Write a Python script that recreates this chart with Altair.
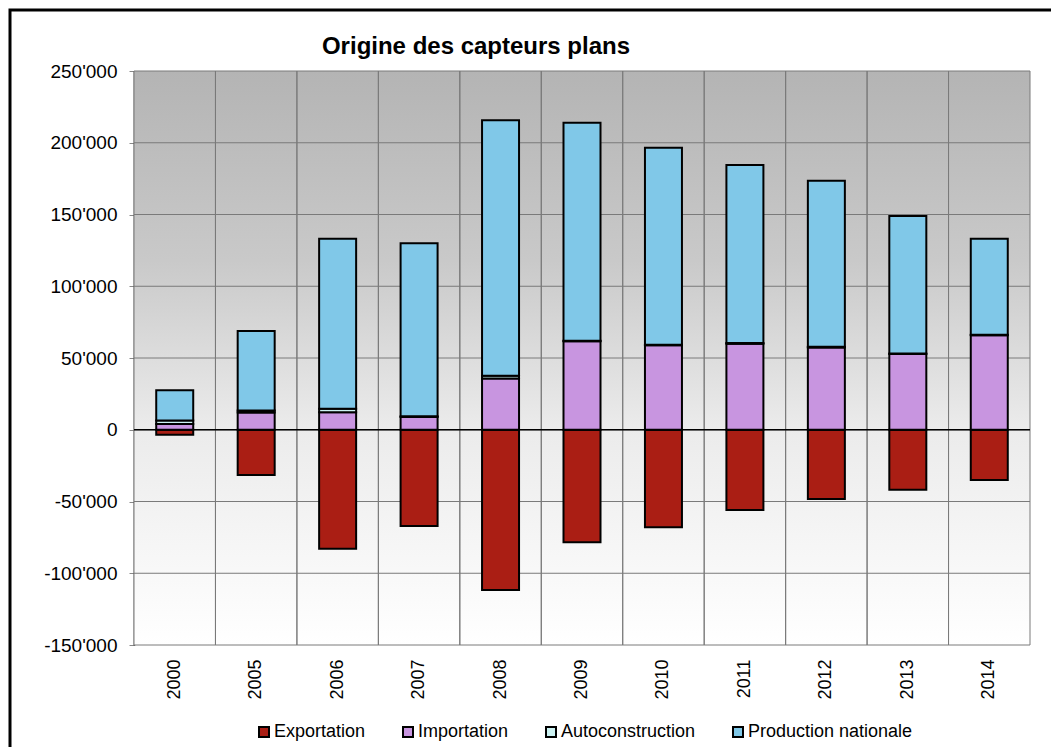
import altair as alt
import pandas as pd

years = ["2000", "2005", "2006", "2007", "2008", "2009", "2010", "2011", "2012", "2013", "2014"]
exportation = [-3500, -31500, -83000, -67000, -111700, -78400, -68000, -55900, -48300, -41800, -35100]
importation = [4000, 12000, 12200, 8900, 35800, 61600, 58800, 60000, 57400, 52800, 65800]
autoconstruction = [2500, 1500, 2500, 500, 1800, 500, 400, 400, 400, 400, 400]
production = [21000, 55300, 118400, 120600, 178000, 151900, 137300, 124100, 115800, 95800, 66900]

series_names = ["Exportation", "Importation", "Autoconstruction", "Production nationale"]
series_colors = ["#AA1E14", "#C895E0", "#CCF2F2", "#80C8E8"]
y_ticks = [-150000, -100000, -50000, 0, 50000, 100000, 150000, 200000, 250000]
title_text = "Origine des capteurs plans"

W, H = 896, 574

rows = []
for i, y in enumerate(years):
    for k, (name, vals) in enumerate(zip(series_names, [exportation, importation, autoconstruction, production])):
        rows.append({"year": y, "serie": name, "value": vals[i], "ord": k})
df = pd.DataFrame(rows)
years_df = pd.DataFrame({"year": years})
ticks_df = pd.DataFrame({"v": y_ticks})

x_scale = alt.Scale(domain=years, paddingInner=0, paddingOuter=0)
y_scale = alt.Scale(domain=[y_ticks[0], y_ticks[-1]], nice=False, zero=False)

x_axis = alt.Axis(labelAngle=-90, labelFontSize=18, labelColor="black",
                  ticks=False, domain=False, grid=False, labelPadding=14)
y_axis = alt.Axis(values=y_ticks, grid=False, labelFontSize=19, labelColor="black",
                  tickColor="#888888", tickSize=5, labelPadding=12,
                  domainColor="black", domainWidth=1.5,
                  labelExpr="replace(replace(format(datum.value, ','), regexp(',', 'g'), \"'\"), '\u2212', '-')")

one = alt.Data(values=[{"a": 1}])

background = alt.Chart(one).mark_rect(
    fill=alt.LinearGradient(
        gradient="linear", x1=0, y1=0, x2=0, y2=1,
        stops=[
            alt.GradientStop(offset=0, color="#B4B4B4"),
            alt.GradientStop(offset=0.33, color="#C9C9C9"),
            alt.GradientStop(offset=0.62, color="#EBEBEB"),
            alt.GradientStop(offset=1, color="#FFFFFF"),
        ],
    )
).encode(x=alt.value(0), x2=alt.value(W), y=alt.value(0), y2=alt.value(H))

hgrid = alt.Chart(ticks_df).mark_rule(color="#7A7A7A", strokeWidth=1).encode(
    y=alt.Y("v:Q", scale=y_scale, axis=y_axis, title=None)
)

vgrid0 = alt.Chart(years_df).mark_rule(color="#7A7A7A", strokeWidth=1).encode(
    x=alt.X("year:N", scale=x_scale, bandPosition=0, axis=x_axis, title=None)
)
vgrid1 = alt.Chart(years_df).mark_rule(color="#7A7A7A", strokeWidth=1).encode(
    x=alt.X("year:N", scale=x_scale, bandPosition=1, axis=x_axis, title=None)
)

bars = alt.Chart(df).mark_bar(size=37, stroke="black", strokeWidth=2).encode(
    x=alt.X("year:N", scale=x_scale, title=None, axis=x_axis),
    y=alt.Y("value:Q", scale=y_scale, stack="zero", title=None, axis=y_axis),
    color=alt.Color("serie:N", scale=alt.Scale(domain=series_names, range=series_colors),
                    legend=alt.Legend(title=None, orient="none", legendX=121, legendY=652,
                                      direction="horizontal", symbolType="square", symbolSize=100,
                                      symbolStrokeColor="black", symbolStrokeWidth=2,
                                      labelFontSize=18, labelColor="black", labelOffset=1,
                                      labelLimit=400, columnPadding=33)),
    order=alt.Order("ord:Q"),
)

zero_line = alt.Chart(one).mark_rule(color="black", strokeWidth=1.5).encode(
    y=alt.Y(datum=0, scale=y_scale, axis=y_axis, title=None)
)

title = alt.Chart(one).mark_text(
    text=title_text, fontSize=24, fontWeight="bold", color="black",
    align="center", baseline="alphabetic"
).encode(x=alt.value(342), y=alt.value(-17))

border = alt.Chart(one).mark_rect(
    fillOpacity=0, stroke="black", strokeWidth=3
).encode(x=alt.value(-124), y=alt.value(-61), x2=alt.value(W + 300), y2=alt.value(H + 300))

chart = alt.layer(
    background, hgrid, vgrid0, vgrid1, bars, zero_line, title, border
).properties(
    width=W, height=H,
    autosize=alt.AutoSizeParams(type="none"),
    padding={"left": 126, "top": 63, "right": 21, "bottom": 102},
).configure(
    font="Liberation Sans"
).configure_view(
    strokeWidth=0
)

chart.save("out.html", embed_options={"renderer": "svg", "actions": False})
